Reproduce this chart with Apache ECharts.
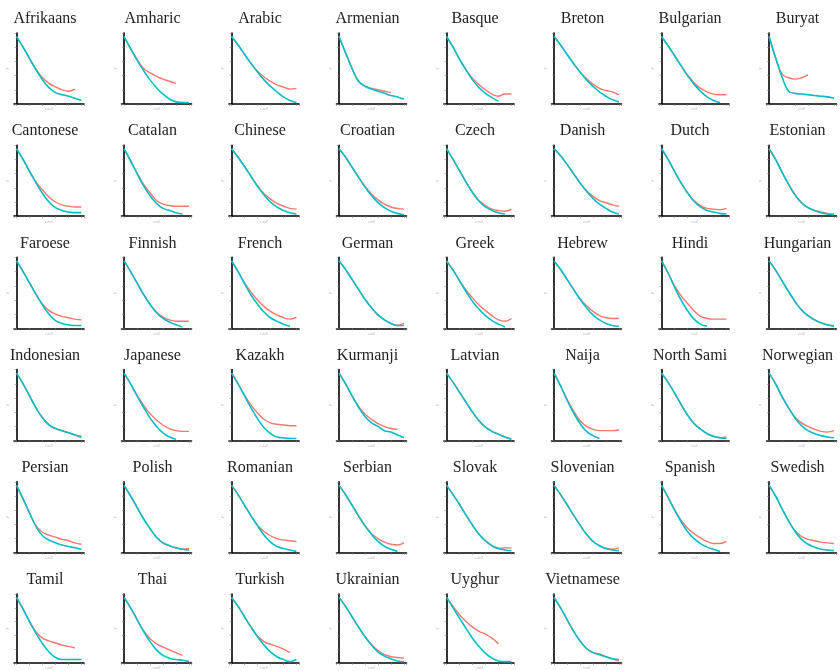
<!DOCTYPE html>
<html>
<head>
<meta charset="utf-8">
<script src="https://cdn.jsdelivr.net/npm/echarts@6/dist/echarts.min.js"></script>
<style>
  html, body { margin: 0; padding: 0; background: #fff; }
  #chart { width: 840px; height: 671px; }
</style>
</head>
<body>
<div id="chart"></div>
<script>
// one panel per language, 8 per row
var langs = ['Afrikaans','Amharic','Arabic','Armenian','Basque','Breton','Bulgarian','Buryat',
  'Cantonese','Catalan','Chinese','Croatian','Czech','Danish','Dutch','Estonian',
  'Faroese','Finnish','French','German','Greek','Hebrew','Hindi','Hungarian',
  'Indonesian','Japanese','Kazakh','Kurmanji','Latvian','Naija','North Sami','Norwegian',
  'Persian','Polish','Romanian','Serbian','Slovak','Slovenian','Spanish','Swedish',
  'Tamil','Thai','Turkish','Ukrainian','Uyghur','Vietnamese'];

// values at x = 0..10 (null = line has ended)
var cyanVals = [
  [0.95,0.8,0.64,0.48,0.34,0.23,0.16,0.13,0.11,0.08,0.05],
  [0.95,0.78,0.62,0.47,0.34,0.23,0.14,0.07,0.03,0.02,0.02],
  [0.95,0.83,0.7,0.57,0.45,0.34,0.25,0.17,0.1,0.05,0.02],
  [0.95,0.72,0.5,0.32,0.25,0.21,0.18,0.15,0.12,0.1,0.07],
  [0.95,0.8,0.63,0.48,0.34,0.23,0.15,0.09,0.04],
  [0.95,0.83,0.7,0.57,0.45,0.34,0.25,0.17,0.11,0.06,0.03],
  [0.95,0.82,0.68,0.54,0.4,0.28,0.18,0.1,0.05,0.02],
  [0.95,0.65,0.38,0.18,0.15,0.14,0.13,0.12,0.11,0.1,0.08],

  [0.95,0.8,0.63,0.47,0.32,0.2,0.12,0.08,0.06,0.05,0.05],
  [0.95,0.78,0.6,0.43,0.29,0.18,0.11,0.08,0.05,0.03],
  [0.95,0.83,0.7,0.56,0.42,0.3,0.2,0.13,0.08,0.05,0.03],
  [0.95,0.83,0.69,0.55,0.41,0.29,0.19,0.12,0.07,0.04,0.02],
  [0.95,0.8,0.64,0.48,0.33,0.21,0.13,0.08,0.05,0.03],
  [0.95,0.85,0.73,0.6,0.47,0.35,0.25,0.17,0.11,0.06,0.03],
  [0.95,0.8,0.63,0.47,0.33,0.21,0.13,0.08,0.06,0.04,0.03],
  [0.95,0.8,0.62,0.45,0.3,0.19,0.12,0.08,0.05,0.03,0.02],

  [0.95,0.8,0.64,0.48,0.33,0.2,0.11,0.07,0.05,0.04,0.04],
  [0.95,0.8,0.64,0.48,0.34,0.22,0.14,0.09,0.05,0.02],
  [0.95,0.8,0.63,0.47,0.34,0.23,0.15,0.1,0.06,0.03],
  [0.95,0.83,0.69,0.55,0.41,0.29,0.19,0.12,0.07,0.04,0.04],
  [0.95,0.82,0.67,0.52,0.38,0.27,0.18,0.11,0.06,0.02],
  [0.95,0.83,0.69,0.55,0.41,0.29,0.19,0.12,0.07,0.04,0.03],
  [0.95,0.78,0.58,0.4,0.25,0.13,0.06,0.03],
  [0.95,0.82,0.67,0.52,0.38,0.26,0.18,0.12,0.08,0.05,0.03],

  [0.95,0.8,0.63,0.46,0.32,0.22,0.17,0.14,0.11,0.08,0.06],
  [0.95,0.8,0.63,0.47,0.32,0.2,0.11,0.05,0.02],
  [0.95,0.8,0.63,0.46,0.31,0.18,0.1,0.05,0.04,0.03,0.03],
  [0.95,0.8,0.63,0.47,0.34,0.25,0.2,0.14,0.12,0.08,0.04],
  [0.95,0.82,0.68,0.54,0.4,0.28,0.19,0.13,0.09,0.05,0.02],
  [0.95,0.77,0.57,0.39,0.24,0.13,0.07,0.03],
  [0.95,0.82,0.67,0.51,0.36,0.24,0.16,0.1,0.06,0.04,0.03],
  [0.95,0.8,0.62,0.46,0.32,0.21,0.14,0.1,0.07,0.05,0.04],

  [0.95,0.76,0.56,0.37,0.24,0.18,0.14,0.11,0.09,0.07,0.05],
  [0.95,0.8,0.64,0.48,0.34,0.22,0.14,0.1,0.07,0.05,0.04],
  [0.95,0.82,0.67,0.52,0.38,0.25,0.15,0.09,0.06,0.04,0.02],
  [0.95,0.82,0.67,0.52,0.38,0.26,0.16,0.09,0.05,0.02],
  [0.95,0.82,0.68,0.53,0.39,0.26,0.17,0.1,0.06,0.04,0.03],
  [0.95,0.82,0.68,0.53,0.39,0.26,0.16,0.1,0.06,0.04,0.03],
  [0.95,0.78,0.6,0.44,0.3,0.2,0.13,0.08,0.05,0.02],
  [0.95,0.8,0.62,0.45,0.3,0.19,0.12,0.08,0.05,0.04,0.03],

  [0.95,0.78,0.6,0.43,0.28,0.16,0.08,0.05,0.05,0.05,0.05],
  [0.95,0.8,0.63,0.46,0.31,0.19,0.11,0.07,0.05,0.04,0.02],
  [0.95,0.82,0.67,0.52,0.38,0.26,0.16,0.09,0.05,0.02,0.05],
  [0.95,0.82,0.67,0.52,0.38,0.26,0.16,0.1,0.06,0.03,0.02],
  [0.95,0.8,0.65,0.5,0.36,0.24,0.14,0.07,0.03,0.02,0.02],
  [0.95,0.8,0.63,0.46,0.32,0.21,0.15,0.12,0.09,0.06,0.05]
];

var redVals = [
  [0.95,0.8,0.64,0.49,0.37,0.29,0.24,0.2,0.18,0.21],
  [0.95,0.78,0.63,0.5,0.44,0.39,0.35,0.32,0.29],
  [0.95,0.83,0.7,0.57,0.46,0.38,0.32,0.27,0.24,0.21,0.22],
  [0.95,0.72,0.5,0.32,0.25,0.22,0.2,0.18,0.16],
  [0.95,0.8,0.63,0.48,0.36,0.27,0.2,0.14,0.11,0.14,0.14],
  [0.95,0.83,0.7,0.57,0.45,0.36,0.28,0.22,0.19,0.17,0.13],
  [0.95,0.82,0.68,0.54,0.41,0.3,0.22,0.17,0.14,0.13,0.13],
  [0.95,0.65,0.42,0.37,0.35,0.37,0.41],

  [0.95,0.8,0.63,0.48,0.37,0.27,0.2,0.16,0.14,0.13,0.13],
  [0.95,0.78,0.61,0.45,0.33,0.22,0.17,0.15,0.14,0.14,0.14],
  [0.95,0.83,0.7,0.56,0.43,0.32,0.24,0.18,0.14,0.11,0.1],
  [0.95,0.83,0.69,0.55,0.42,0.31,0.23,0.17,0.13,0.11,0.1],
  [0.95,0.8,0.64,0.48,0.34,0.22,0.15,0.1,0.08,0.07,0.1],
  [0.95,0.85,0.73,0.6,0.47,0.36,0.28,0.22,0.19,0.16,0.14],
  [0.95,0.8,0.63,0.47,0.33,0.22,0.15,0.11,0.1,0.09,0.11],
  [0.95,0.8,0.62,0.45,0.3,0.19,0.12,0.08,0.06,0.04,0.03],

  [0.95,0.8,0.64,0.48,0.34,0.25,0.2,0.17,0.15,0.13,0.12],
  [0.95,0.8,0.64,0.48,0.34,0.23,0.16,0.12,0.1,0.1,0.1],
  [0.95,0.8,0.64,0.51,0.4,0.31,0.24,0.19,0.15,0.13,0.16],
  [0.95,0.83,0.69,0.55,0.41,0.29,0.19,0.12,0.07,0.04,0.07],
  [0.95,0.82,0.67,0.54,0.43,0.33,0.25,0.18,0.12,0.1,0.14],
  [0.95,0.83,0.69,0.55,0.42,0.32,0.24,0.18,0.15,0.14,0.14],
  [0.95,0.78,0.6,0.46,0.35,0.25,0.17,0.14,0.13,0.13,0.13],
  [0.95,0.82,0.67,0.52,0.38,0.26,0.18,0.12,0.08,0.05,0.04],

  [0.95,0.8,0.63,0.46,0.32,0.22,0.17,0.14,0.11,0.08,0.04],
  [0.95,0.8,0.64,0.5,0.38,0.29,0.22,0.17,0.14,0.13,0.13],
  [0.95,0.8,0.64,0.5,0.39,0.3,0.25,0.23,0.22,0.21,0.21],
  [0.95,0.8,0.63,0.48,0.37,0.3,0.24,0.2,0.17,0.16],
  [0.95,0.82,0.68,0.54,0.4,0.28,0.19,0.13,0.09,0.05,0.02],
  [0.95,0.77,0.58,0.42,0.28,0.2,0.16,0.14,0.14,0.14,0.15],
  [0.95,0.82,0.67,0.51,0.36,0.24,0.16,0.1,0.06,0.04,0.05],
  [0.95,0.8,0.62,0.46,0.33,0.25,0.2,0.16,0.13,0.12,0.14],

  [0.95,0.76,0.56,0.38,0.29,0.25,0.22,0.19,0.17,0.14,0.12],
  [0.95,0.8,0.64,0.48,0.34,0.22,0.14,0.1,0.07,0.05,0.06],
  [0.95,0.82,0.67,0.52,0.39,0.3,0.24,0.2,0.18,0.17,0.16],
  [0.95,0.82,0.67,0.52,0.38,0.27,0.2,0.15,0.12,0.11,0.14],
  [0.95,0.82,0.68,0.53,0.39,0.26,0.17,0.1,0.06,0.07,0.07],
  [0.95,0.82,0.68,0.53,0.39,0.26,0.16,0.1,0.06,0.05,0.07],
  [0.95,0.78,0.61,0.46,0.35,0.27,0.21,0.16,0.13,0.13,0.16],
  [0.95,0.8,0.62,0.45,0.31,0.23,0.19,0.17,0.15,0.14,0.13],

  [0.95,0.78,0.6,0.45,0.36,0.32,0.29,0.26,0.24,0.22],
  [0.95,0.8,0.63,0.47,0.35,0.28,0.23,0.19,0.15,0.11],
  [0.95,0.82,0.67,0.52,0.39,0.31,0.27,0.24,0.2,0.15],
  [0.95,0.82,0.67,0.52,0.38,0.27,0.18,0.12,0.09,0.08,0.07],
  [0.95,0.82,0.7,0.6,0.52,0.46,0.42,0.36,0.28],
  [0.95,0.8,0.63,0.46,0.32,0.21,0.15,0.13,0.09,0.06,0.03]
];

var myChart = echarts.init(document.getElementById('chart'));

function pts(arr) {
  var out = [];
  for (var i = 0; i < arr.length; i++) {
    if (arr[i] != null) out.push([i, arr[i]]);
  }
  return out;
}

function buildOption() {
  var grids = [], xAxes = [], yAxes = [], titles = [], series = [];
  var colW = 107.5, rowH = 112.2;
  for (var k = 0; k < langs.length; k++) {
    var c = k % 8, r = Math.floor(k / 8);
    var gx = 14 + colW * c, gy = 33 + rowH * r;
    grids.push({ left: gx, top: gy, width: 70, height: 71 });
    titles.push({
      text: langs[k],
      left: gx + 31, top: gy - 22, textAlign: 'center', padding: 0,
      textStyle: { fontFamily: 'Liberation Serif', fontSize: 16, fontWeight: 'normal', color: '#222' }
    });
    xAxes.push({
      type: 'value', gridIndex: k, min: -0.4, max: 10.4,
      axisLine: { show: true, lineStyle: { color: '#000', width: 1.6 } },
      axisTick: { show: true, length: 2, lineStyle: { color: '#888', width: 0.6 } },
      axisLabel: { show: false }, splitLine: { show: false },
      name: 'cutoff', nameLocation: 'middle', nameGap: 4,
      nameTextStyle: { fontSize: 3, color: '#bbb' }
    });
    yAxes.push({
      type: 'value', gridIndex: k, min: 0, max: 1,
      axisLine: { show: true, lineStyle: { color: '#000', width: 1.6 } },
      axisTick: { show: true, length: 2, lineStyle: { color: '#888', width: 0.6 } },
      axisLabel: { show: false }, splitLine: { show: false },
      name: 'y', nameLocation: 'middle', nameGap: 5,
      nameTextStyle: { fontSize: 4, color: '#bbb' }
    });
    series.push({
      type: 'line', xAxisIndex: k, yAxisIndex: k, data: pts(redVals[k]),
      smooth: 0.4, showSymbol: false, silent: true, z: 2,
      lineStyle: { color: '#F8766D', width: 1.4 }
    });
    series.push({
      type: 'line', xAxisIndex: k, yAxisIndex: k, data: pts(cyanVals[k]),
      smooth: 0.4, showSymbol: false, silent: true, z: 3,
      lineStyle: { color: '#00BFC4', width: 1.6 }
    });
  }
  return {
    animation: false,
    backgroundColor: '#fff',
    title: titles,
    grid: grids,
    xAxis: xAxes,
    yAxis: yAxes,
    series: series
  };
}

myChart.setOption(buildOption());
</script>
</body>
</html>
